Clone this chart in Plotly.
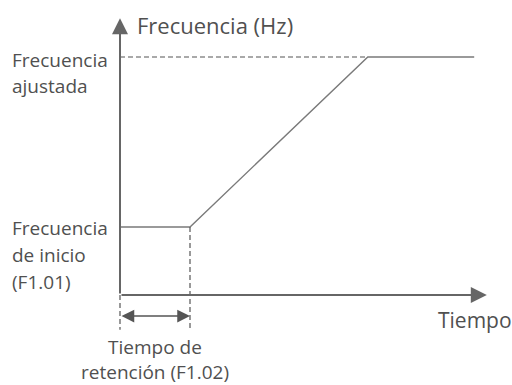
import plotly.graph_objects as go

# ---- data (conceptual units) ----
profile_time = [0.0, 1.0, 3.54, 5.06]        # origin, end of hold, end of ramp, end of line
profile_freq = [1.0, 1.0, 3.5, 3.5]          # start freq, start freq, set freq, set freq
set_freq_dash_time = [0.0, 3.54]
set_freq_dash_freq = [3.5, 3.5]
hold_marker_time = [1.0, 1.0]
hold_marker_freq = [1.0, -0.51]
origin_marker_time = [0.0, 0.0]
origin_marker_freq = [0.0, -0.51]
axis_time_end = 5.24
axis_freq_end = 4.07
hold_arrow_freq = -0.31

labels_left = [("Frecuencia", 3.46), ("ajustada", 3.07),
               ("Frecuencia", 0.985), ("de inicio", 0.59), ("(F1.01)", 0.19)]
bottom_labels = [("Tiempo de", -0.76), ("retención (F1.02)", -1.13)]

FONT = "Open Sans"
TXT = "#505050"
FS = 19

fig = go.Figure()

# profile
fig.add_trace(go.Scatter(x=profile_time, y=profile_freq, mode="lines",
                         line=dict(color="#7a7a7a", width=1.4), hoverinfo="skip"))
# dashed helpers
for xs, ys in [(set_freq_dash_time, set_freq_dash_freq),
               (hold_marker_time, hold_marker_freq),
               (origin_marker_time, origin_marker_freq)]:
    fig.add_trace(go.Scatter(x=xs, y=ys, mode="lines",
                             line=dict(color="#555555", width=1.2, dash="5px,3px"),
                             hoverinfo="skip"))

# axes (arrows)
fig.add_annotation(x=0, y=axis_freq_end, ax=0, ay=0, xref="x", yref="y",
                   axref="x", ayref="y", showarrow=True, arrowhead=2,
                   arrowsize=1.6, arrowwidth=2, arrowcolor="#666666", text="")
fig.add_annotation(x=axis_time_end, y=0, ax=0, ay=0, xref="x", yref="y",
                   axref="x", ayref="y", showarrow=True, arrowhead=2,
                   arrowsize=1.6, arrowwidth=2, arrowcolor="#666666", text="")
# hold time double arrow
fig.add_annotation(x=1.0, y=hold_arrow_freq, ax=0.0, ay=hold_arrow_freq,
                   xref="x", yref="y", axref="x", ayref="y", showarrow=True,
                   arrowhead=2, startarrowhead=2, arrowside="end+start",
                   arrowsize=1.7, startarrowsize=1.7, arrowwidth=1.5,
                   arrowcolor="#555555", text="")

# text labels
fig.add_annotation(x=0.214, y=3.97, xref="x", yref="y", text="Frecuencia (Hz)",
                   showarrow=False, xanchor="left", yanchor="middle",
                   font=dict(family=FONT, size=22, color=TXT))
for t, yy in labels_left:
    fig.add_annotation(x=-1.571, y=yy, xref="x", yref="y", text=t, showarrow=False,
                       xanchor="left", yanchor="middle",
                       font=dict(family=FONT, size=FS, color=TXT))
for t, yy in bottom_labels:
    fig.add_annotation(x=0.5, y=yy, xref="x", yref="y", text=t, showarrow=False,
                       xanchor="center", yanchor="middle",
                       font=dict(family=FONT, size=FS, color=TXT))
fig.add_annotation(x=4.51, y=-0.37, xref="x", yref="y", text="Tiempo",
                   showarrow=False, xanchor="left", yanchor="middle",
                   font=dict(family=FONT, size=21, color=TXT))

fig.update_layout(
    width=512, height=385, margin=dict(l=0, r=0, t=0, b=0),
    paper_bgcolor="white", plot_bgcolor="white", showlegend=False,
    xaxis=dict(range=[-120/70, 392/70], visible=False, fixedrange=True),
    yaxis=dict(range=[-90/68, 295/68], visible=False, fixedrange=True),
)

fig.write_html("out.html",
               config={"displayModeBar": False, "staticPlot": True},
               post_script="document.body.style.margin='0';"
                           "document.body.style.overflow='hidden';")
